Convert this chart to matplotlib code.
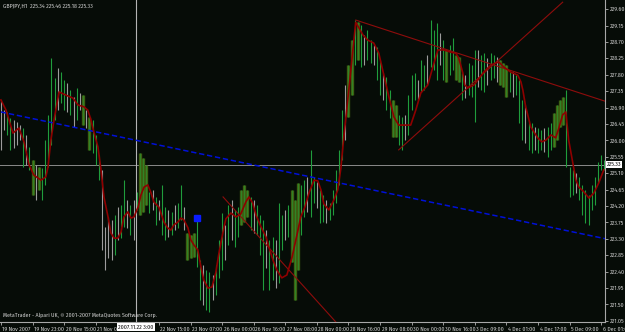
import matplotlib.pyplot as plt
import matplotlib.transforms as mtransforms

# GBPJPY H1 bars (price units)
highs = [227.11, 226.83, 226.78, 226.61, 226.56, 226.50, 226.42, 226.34, 226.15, 225.82,
         225.46, 225.33, 225.27, 225.24, 226.01, 226.70, 228.26, 227.71, 227.98, 227.87,
         227.65, 227.57, 227.38, 227.19, 227.44, 227.30, 227.24, 226.83, 226.64, 226.56,
         226.15, 225.60, 225.19, 223.63, 223.90, 223.82, 223.96, 224.17, 224.23, 224.91,
         224.37, 224.23, 224.37, 224.58, 225.65, 225.52, 225.33, 224.58, 224.64, 224.45,
         224.37, 224.78, 224.17, 224.09, 224.04, 224.23, 224.28, 224.78, 224.17, 223.46,
         223.41, 223.46, 223.82, 222.72, 222.59, 222.45, 222.39, 222.31, 222.59, 223.27,
         224.01, 223.68, 224.23, 224.37, 224.09, 224.17, 224.64, 224.78, 224.64, 224.45,
         224.37, 224.23, 223.96, 223.82, 223.54, 223.27, 223.35, 223.27, 224.28, 223.96,
         224.09, 224.23, 224.64, 224.37, 224.83, 224.78, 224.91, 225.00, 225.74, 225.00,
         224.86, 224.64, 224.50, 224.37, 224.28, 224.64, 225.19, 225.74, 226.83, 227.52,
         228.07, 228.75, 229.30, 229.24, 229.16, 228.89, 229.02, 228.75, 228.61, 228.56,
         228.20, 227.85, 227.74, 227.38, 227.11, 226.97, 226.70, 226.64, 226.70, 227.24,
         227.79, 227.85, 227.65, 228.20, 228.07, 228.34, 229.30, 229.02, 229.22, 228.94,
         228.75, 228.48, 228.61, 228.80, 228.34, 228.28, 227.85, 227.79, 228.12, 228.07,
         228.48, 228.48, 228.34, 228.39, 228.26, 228.39, 228.34, 228.28, 228.20, 228.12,
         228.07, 227.93, 227.87, 227.79, 227.65, 227.11, 226.97, 226.56, 226.48, 226.37,
         226.34, 226.28, 226.34, 226.37, 226.48, 226.75, 226.97, 227.11, 227.19, 227.38,
         225.27, 225.19, 225.11, 225.00, 224.78, 224.64, 224.50, 224.78, 225.00, 225.41,
         225.60, 225.46]
lows = [225.74, 226.28, 226.15, 225.74, 225.79, 225.87, 226.01, 225.27, 225.33, 225.19,
        224.50, 224.37, 224.64, 224.37, 224.78, 225.27, 225.87, 226.56, 226.83, 227.02,
        226.83, 226.78, 226.70, 226.37, 226.56, 226.83, 226.42, 226.34, 225.74, 225.65,
        225.33, 224.91, 223.00, 222.45, 222.78, 222.72, 222.86, 223.27, 223.32, 223.63,
        223.60, 223.41, 223.27, 224.09, 223.96, 224.04, 224.23, 224.01, 224.09, 223.68,
        223.82, 223.41, 223.27, 223.35, 223.41, 223.54, 223.60, 223.82, 223.54, 222.72,
        222.78, 222.80, 222.53, 221.62, 221.49, 221.35, 221.30, 221.62, 221.76, 222.23,
        222.45, 222.72, 223.14, 223.27, 223.08, 223.35, 223.68, 223.76, 223.90, 223.54,
        223.46, 223.41, 222.86, 221.90, 222.50, 221.90, 222.17, 221.95, 222.09, 223.00,
        223.27, 223.35, 222.67, 221.62, 222.45, 223.41, 223.90, 224.04, 223.90, 224.28,
        224.15, 223.74, 223.76, 223.74, 223.82, 223.96, 224.28, 224.78, 225.46, 226.01,
        226.64, 227.24, 228.07, 228.20, 228.01, 228.07, 228.20, 228.12, 228.07, 227.65,
        227.24, 227.11, 226.83, 226.61, 226.09, 226.09, 225.87, 225.74, 226.01, 226.15,
        226.83, 227.11, 227.11, 227.33, 227.38, 227.52, 228.01, 227.93, 227.65, 228.07,
        227.65, 227.60, 227.79, 227.93, 227.65, 227.60, 227.11, 227.16, 227.24, 227.19,
        226.50, 227.46, 227.38, 227.33, 227.52, 227.65, 227.71, 227.60, 227.52, 227.46,
        227.19, 227.33, 227.19, 227.24, 226.48, 226.01, 225.93, 225.74, 225.65, 225.74,
        225.65, 225.74, 225.68, 225.55, 225.74, 225.82, 226.01, 226.37, 226.42, 225.27,
        224.45, 224.50, 224.56, 224.37, 223.96, 223.74, 223.68, 224.09, 224.23, 224.83,
        225.19, 225.18]
# g = green bar, w = grey bar, o = dark olive cluster
kinds = ("wwggwwwgwg" "owogggggwg" "gwgwgwowog" "ggwwwwgwgg" "wgwgooogwg"
         "wggwgwggwo" "ooggwggwgg" "gwgwggooog" "wgggwggwgg" "wgoooggwgg"
         "wggwgggggw" "oogogwggwg" "gwggooggwg" "ggwggwgggw" "goggoogwgg"
         "gwggwggwoo" "ogwgggwggw" "ggwggoooog" "ggwggggggg" "gg")

# red indicator line (bar position, price)
red_x = [0, 1.6, 3.8, 5.7, 7.3, 8.9, 10.4, 12.7, 14.2, 14.9,
         15.8, 16.8, 18.4, 20.6, 22.8, 24.4, 26.3, 27.5, 28.5, 29.4,
         30.7, 31.6, 32.6, 33.9, 34.8, 35.8, 37.0, 38.0, 38.9, 40.2,
         41.1, 42.1, 43.4, 44.3, 45.3, 46.5, 47.5, 48.4, 50.0, 51.6,
         52.8, 53.8, 54.7, 56.0, 57.0, 57.9, 59.2, 60.1, 61.1, 62.3,
         63.3, 64.2, 65.5, 66.8, 68.0, 69.0, 70.3, 71.2, 72.8, 74.4,
         75.9, 77.5, 78.5, 79.7, 80.7, 82.3, 83.9, 84.8, 86.1, 87.3,
         88.9, 90.5, 92.1, 93.7, 94.9, 96.2, 97.5, 99.1, 100.3, 101.3,
         102.2, 103.8, 105.4, 106.6, 107.6, 108.5, 110.1, 112.3, 114.6, 116.1,
         118.0, 119.6, 121.2, 122.8, 124.4, 125.9, 129.7, 131.3, 132.9, 135.1,
         136.7, 138.3, 140.2, 142.4, 144.0, 144.9, 146.2, 146.8, 147.8, 149.7,
         150.9, 152.8, 155.1, 157.6, 159.2, 161.4, 163.6, 164.6, 165.2, 166.1,
         167.7, 169.9, 171.2, 172.5, 174.1, 175.6, 176.6, 177.8, 178.8, 179.7,
         181.0, 182.0, 182.9, 184.5, 186.1, 187.7, 189.2, 190.8]
red_y = [227.11, 226.83, 226.20, 226.34, 225.96, 225.33, 225.05, 224.91, 225.00, 225.27,
         226.01, 226.56, 227.33, 227.24, 227.16, 226.97, 226.92, 226.83, 226.56, 226.23,
         225.82, 225.24, 224.45, 223.90, 223.46, 223.32, 223.32, 223.49, 223.90, 224.04,
         223.87, 223.90, 224.17, 224.50, 224.72, 224.78, 224.56, 224.31, 224.17, 223.76,
         223.60, 223.54, 223.68, 223.76, 223.87, 223.82, 223.60, 223.27, 223.13, 223.00,
         222.53, 222.17, 221.95, 221.98, 222.37, 222.91, 223.49, 223.85, 224.01, 223.90,
         223.98, 224.31, 224.45, 224.28, 223.96, 223.63, 223.35, 223.08, 222.72, 222.45,
         222.23, 222.31, 222.78, 223.41, 223.90, 224.17, 224.56, 224.91, 224.89, 224.64,
         224.26, 224.09, 224.37, 224.64, 225.24, 226.07, 227.38, 229.24, 228.89, 228.75,
         228.67, 228.39, 227.79, 227.19, 226.64, 226.42, 226.42, 226.83, 227.30, 227.52,
         228.01, 228.48, 228.48, 228.42, 228.39, 228.26, 227.85, 227.52, 227.44, 227.52,
         227.65, 227.87, 228.07, 228.15, 228.01, 227.87, 227.79, 227.60, 227.38, 226.92,
         226.37, 226.07, 225.96, 226.01, 226.15, 226.07, 226.34, 226.70, 226.78, 226.01,
         225.38, 224.91, 224.72, 224.59, 224.42, 224.56, 224.83, 225.19]

# trend lines drawn on the chart (bar position pairs, price pairs)
blue_trend = ([0, 191.5], [226.78, 223.30])
red_trends = [([70.3, 106.0], [224.45, 221.02]),
              ([112.3, 192.1], [229.30, 227.05]),
              ([125.9, 177.8], [225.74, 229.79])]

price_ticks = [229.60, 229.15, 228.70, 228.25, 227.80, 227.35, 226.90, 226.45, 226.00, 225.55,
               225.10, 224.65, 224.20, 223.75, 223.30, 222.85, 222.40, 221.95, 221.50, 221.05]
# the label at 21 Nov 23:00 sits under the cursor date box, so it is left blank
time_labels = ["19 Nov 2007", "19 Nov 23:00", "20 Nov 15:00", "21 Nov 07:00", "",
               "22 Nov 15:00", "23 Nov 07:00", "26 Nov 00:00", "26 Nov 16:00", "27 Nov 08:00",
               "28 Nov 00:00", "28 Nov 16:00", "29 Nov 08:00", "30 Nov 00:00", "30 Nov 16:00",
               "3 Dec 09:00", "4 Dec 01:00", "4 Dec 17:00", "5 Dec 09:00", "6 Dec 01:00"]
bars_per_label = 10
last_price = 225.33
cursor_bar = 42.8
cursor_text = "2007.11.22 3:00"
signal_bar, signal_price = 62.0, 223.87

bg = '#060c07'
txt = '#d2d2d2'
fam = ['Fira Sans Condensed', 'Liberation Sans']
fs = 4.2

fig = plt.figure(figsize=(6.25, 3.32), dpi=100, facecolor=bg)
ax = fig.add_axes([0, 10 / 332, 605 / 625, 322 / 332], facecolor=bg)

xs = range(len(highs))
for k, col, lw in [('o', '#3d6012', 2.4), ('w', '#9c9c9c', 0.8), ('g', '#1f9d3c', 0.8)]:
    bx = [i for i in xs if kinds[i] == k]
    ax.vlines(bx, [lows[i] for i in bx], [highs[i] for i in bx], colors=col, linewidth=lw, zorder=2)
# thin green line through olive clusters
ob = [i for i in xs if kinds[i] == 'o']
ax.vlines(ob, [lows[i] for i in ob], [highs[i] for i in ob], colors='#2f8a2a', linewidth=0.6, zorder=2)

ax.axhline(last_price, color='#8a8a8a', lw=0.7, zorder=1)
ax.axvline(cursor_bar, color='#b4b4b4', lw=0.8, zorder=1)

ax.plot(blue_trend[0], blue_trend[1], color='#0010d8', lw=1.1, dashes=(3.5, 1.8), zorder=3)
for tx, ty in red_trends:
    ax.plot(tx, ty, color='#8e0c0c', lw=0.8, zorder=3)
ax.plot(red_x, red_y, color='#8e0000', lw=1.2, zorder=4)
ax.plot([signal_bar], [signal_price], 's', color='#0a1cff', ms=4, mec='#0a1cff', zorder=5)

ax.set_xlim(-0.3, 191.2)
ax.set_ylim(221.02, 229.85)

ax.yaxis.tick_right()
ax.set_yticks(price_ticks)
ax.set_yticklabels(['%.2f' % p for p in price_ticks], family=fam, fontsize=fs, color=txt)
ax.tick_params(axis='y', direction='out', length=2.5, width=0.6, color='#b0b0b0', pad=1.0)

ax.set_xticks([i * bars_per_label for i in range(len(time_labels))])
ax.set_xticklabels(time_labels, family=fam, fontsize=fs, color=txt, ha='left')
ax.tick_params(axis='x', direction='out', length=2.5, width=0.6, color='#b0b0b0', pad=1.0)
shift = mtransforms.ScaledTranslation(1.5 / 100, 0, fig.dpi_scale_trans)
for lab in ax.get_xticklabels():
    lab.set_transform(lab.get_transform() + shift)

for s in ['top', 'left']:
    ax.spines[s].set_visible(False)
for s in ['right', 'bottom']:
    ax.spines[s].set_color('#a8a8a8')
    ax.spines[s].set_linewidth(0.8)

ax.text(0.005, 0.988, "GBPJPY,H1  225.34 225.46 225.18 225.33", transform=ax.transAxes,
        family=fam, fontsize=fs, color=txt, va='top', ha='left')
ax.text(0.005, 0.012, "MetaTrader - Alpari UK, \u00a9 2001-2007 MetaQuotes Software Corp.",
        transform=ax.transAxes, family=fam, fontsize=fs, color=txt, va='bottom', ha='left')

trans = mtransforms.blended_transform_factory(ax.transData, ax.transAxes)
ax.text(cursor_bar, -0.016, cursor_text, transform=trans, family=fam, fontsize=fs,
        color='black', ha='center', va='center', zorder=10, clip_on=False,
        bbox=dict(boxstyle='square,pad=0.2', fc='white', ec='none'))
ax.text(1.003, last_price, "%.2f" % last_price,
        transform=mtransforms.blended_transform_factory(ax.transAxes, ax.transData),
        family=fam, fontsize=fs, color='black', ha='left', va='center', zorder=10, clip_on=False,
        bbox=dict(boxstyle='square,pad=0.15', fc='white', ec='none'))

fig.savefig('out.png', dpi=100, facecolor=bg)
